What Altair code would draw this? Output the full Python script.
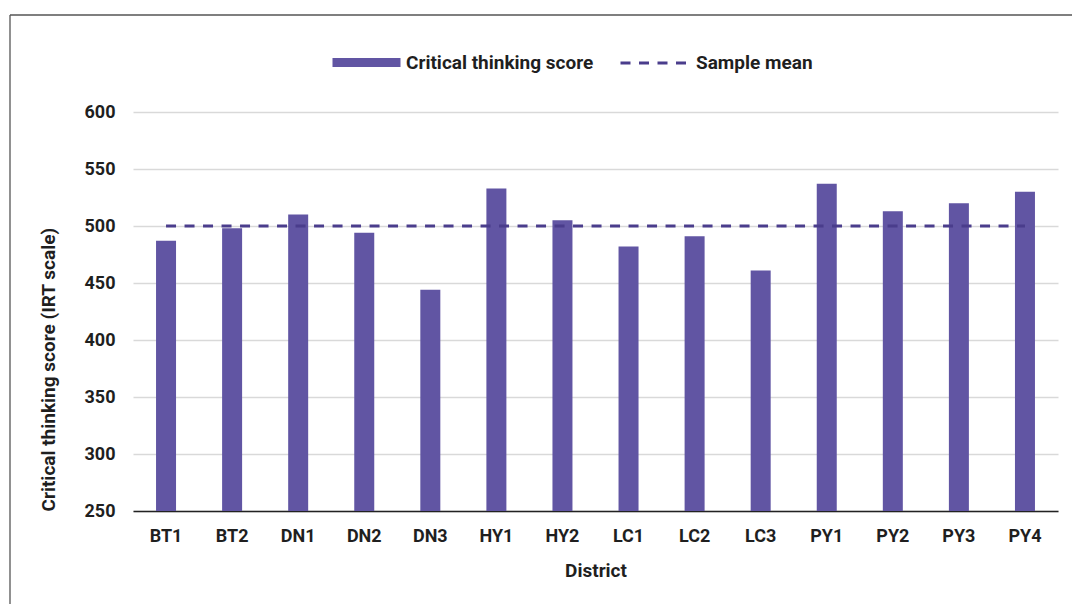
import altair as alt
import pandas as pd

districts = ["BT1", "BT2", "DN1", "DN2", "DN3", "HY1", "HY2", "LC1", "LC2", "LC3", "PY1", "PY2", "PY3", "PY4"]
scores = [487, 498, 510, 494, 444, 533, 505, 482, 491, 461, 537, 513, 520, 530]
sample_mean = [500] * len(districts)
y_ticks = [250, 300, 350, 400, 450, 500, 550, 600]

BAR = "#6155A3"
LINE = "#4A3D8C"
TEXT = "#1f1f1f"
FONT = "Roboto, sans-serif"
FS = 18
TFS = 19

df = pd.DataFrame({
    "District": districts,
    "Score": scores,
    "Mean": sample_mean,
    "s1": ["Critical thinking score"] * len(districts),
    "s2": ["Sample mean"] * len(districts),
})

W, H = 925, 399

x_enc = alt.X(
    "District:N", sort=districts,
    scale=alt.Scale(paddingInner=0.1, paddingOuter=0.05),
    axis=alt.Axis(title="District", labelAngle=0, ticks=False, grid=False,
                  domainColor="#222222", domainWidth=1.6,
                  labelPadding=16, titlePadding=16),
)

bars = alt.Chart(df).mark_bar(size=20, clip=True).encode(
    x=x_enc,
    y=alt.Y("Score:Q", scale=alt.Scale(domain=[250, 600], nice=False, zero=False),
            axis=alt.Axis(title="Critical thinking score (IRT scale)", values=y_ticks,
                          domain=False, ticks=False, grid=True, gridColor="#d9d9d9",
                          gridWidth=1.6, labelPadding=18, titlePadding=26,
                          titleAnchor="start")),
    color=alt.Color("s1:N", scale=alt.Scale(range=[BAR]),
                    legend=alt.Legend(title=None, orient="none", legendX=195, legendY=-88,
                                      symbolType="stroke", symbolSize=4624,
                                      symbolStrokeWidth=9, symbolStrokeColor=BAR,
                                      labelOffset=1, padding=0, labelLimit=0)),
)

line = alt.Chart(df).mark_line(strokeWidth=3, color=LINE).encode(
    x=alt.X("District:N", sort=districts),
    y=alt.Y("Mean:Q"),
    strokeDash=alt.StrokeDash("s2:N", scale=alt.Scale(range=[[10, 8.5]]),
                              legend=alt.Legend(title=None, orient="none", legendX=486, legendY=-84,
                                                symbolType="stroke", symbolSize=4489,
                                                symbolStrokeWidth=3, symbolStrokeColor=LINE,
                                                labelOffset=7, padding=0, labelLimit=0)),
)

frame_data = pd.DataFrame({"k": [0]})
left_border = alt.Chart(frame_data).mark_rule(color="#555555", strokeWidth=1.3).encode(
    x=alt.value(-123), y=alt.value(-97), y2=alt.value(520))
top_border = alt.Chart(frame_data).mark_rule(color="#555555", strokeWidth=1.3).encode(
    x=alt.value(-123), x2=alt.value(960), y=alt.value(-97))

chart = alt.layer(bars, line, left_border, top_border).properties(
    width=W, height=H,
    autosize=alt.AutoSizeParams(type="none"),
    padding={"left": 125, "top": 104, "right": 14, "bottom": 93},
).configure_view(stroke=None).configure_axis(
    labelFont=FONT, titleFont=FONT, labelFontSize=FS, titleFontSize=TFS,
    labelFontWeight="bold", titleFontWeight="bold",
    labelColor=TEXT, titleColor=TEXT,
).configure_legend(
    labelFont=FONT, labelFontSize=TFS, labelFontWeight="bold", labelColor=TEXT,
    direction="horizontal",
)

chart.save("out.html", embed_options={"renderer": "svg", "actions": False})
